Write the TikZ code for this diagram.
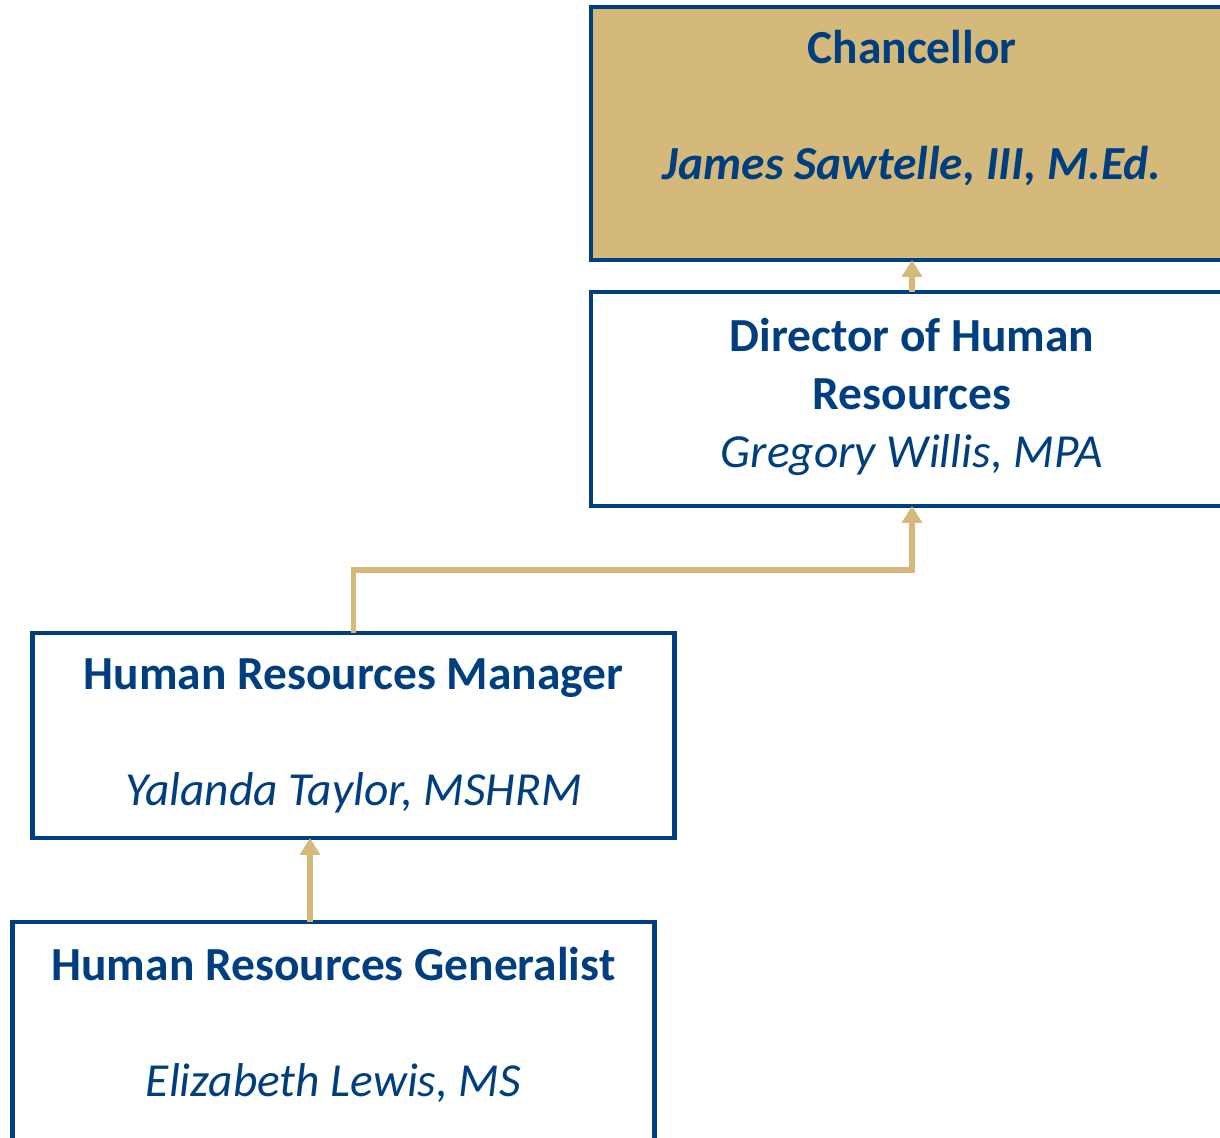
\documentclass[tikz,border=0pt]{standalone}
\usepackage{fontspec}
\setmainfont{Carlito}
\usetikzlibrary{arrows.meta}
\definecolor{hrblue}{RGB}{0,63,127}
\definecolor{hrgold}{RGB}{212,185,123}

\begin{document}
\begin{tikzpicture}[>={Triangle[width=5.6pt,length=4.8pt]},
  post/.style={draw=hrblue, line width=1.15pt, rectangle, inner sep=0pt, outer sep=0pt,
    minimum width=6.42cm, align=center, text=hrblue, font=\fontsize{13.5}{16.5}\selectfont},
  link/.style={->, draw=hrgold, line width=1.7pt}]
\useasboundingbox (0,0) rectangle (12.2,-11.38);
\clip (0,0) rectangle (12.2,-11.38);
\node[post, fill=hrgold, minimum height=2.53cm] (chan) at (9.12,-1.335) {\textbf{Chancellor}\\[16.5pt] \textbf{\textit{James Sawtelle, III, M.Ed.}}\\ \mbox{}};
\node[post, minimum height=2.14cm] (dir) at (9.12,-3.99) {\textbf{Director of Human}\\ \textbf{Resources}\\ \textit{Gregory Willis, MPA}\\[-13pt] \mbox{}};
\node[post, minimum height=2.05cm] (mgr) at (3.535,-7.355) {\textbf{Human Resources Manager}\\[16.5pt] \textit{Yalanda Taylor, MSHRM}};
\node[post, minimum height=2.30cm] (gen) at (3.335,-10.37) {\textbf{Human Resources Generalist}\\[16.5pt] \textit{Elizabeth Lewis, MS}\\[-8pt] \mbox{}};
% reporting lines
\coordinate (genup) at (3.10,-9.22);
\draw[link] (dir.north) -- (chan.south);
\draw[link] (mgr.north) -- ++(0,0.63) -| (dir.south);
\draw[link] (genup) -- (genup |- mgr.south);
\end{tikzpicture}
\end{document}
